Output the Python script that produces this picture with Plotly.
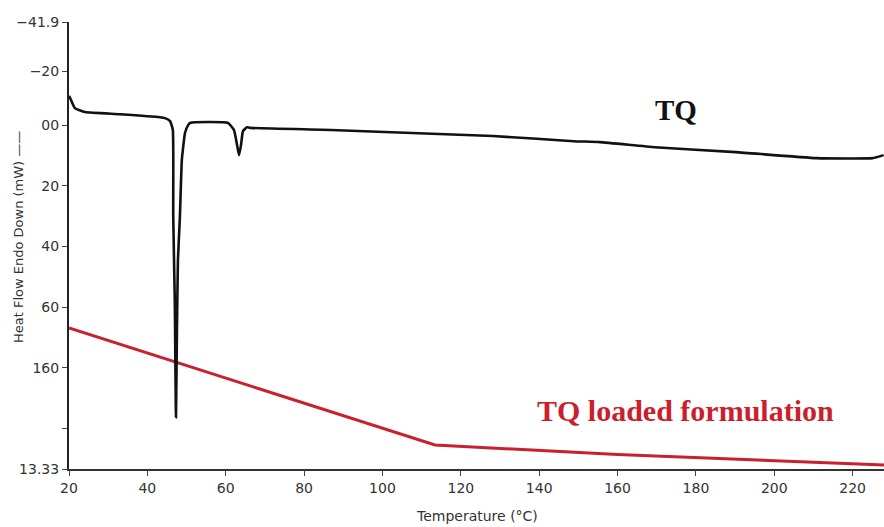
import plotly.graph_objects as go

# TQ thermogram (temperature in °C, heat flow in plot units)
tq_temp = [20.0, 20.3, 21.5, 24.1, 33.0, 43.2, 44.5, 45.8, 46.5, 46.6, 47.0, 47.3,
           47.55, 47.8, 48.3, 48.8, 49.6, 50.4, 50.9, 56.0, 60.6, 62.1, 62.9, 63.4,
           63.9, 64.4, 65.4, 66.2, 86.8, 107.5, 128.2, 148.8, 155.5, 169.5, 190.2,
           210.8, 225.1, 227.9]
tq_flow = [-9.6, -8.9, -5.6, -4.3, -3.6, -2.6, -2.3, -1.3, 1.6, 30.0, 58.0, 96.3,
           67.6, 44.5, 30.3, 11.5, 2.6, 0.0, -0.7, -1.0, -0.7, 1.6, 6.6, 9.9,
           6.6, 2.0, 0.7, 0.9, 1.6, 2.6, 3.6, 5.3, 5.6, 7.3, 8.9,
           10.9, 10.9, 9.9]

# TQ loaded formulation
form_temp = [20.0, 113.4, 160.0, 228.0]
form_flow = [66.9, 105.5, 108.6, 112.1]

# y tick positions and labels
ytick_vals = [-34.0, -17.8, 0, 20, 40, 60, 80, 100, 113.4]
ytick_text = ["\u221241.9", "\u221220", "00", "20", "40", "60", "160", "", "13.33"]
xtick_vals = [20, 40, 60, 80, 100, 120, 140, 160, 180, 200, 220]

SANS = "DejaVu Sans, Arial"
SERIF = "Liberation Serif, Times New Roman"

fig = go.Figure()
fig.add_trace(go.Scatter(x=form_temp, y=form_flow, mode="lines",
                         line=dict(color="#c8202f", width=3), showlegend=False))
fig.add_trace(go.Scatter(x=tq_temp, y=tq_flow, mode="lines",
                         line=dict(color="#111111", width=2.6, shape="spline", smoothing=0.4),
                         showlegend=False))

fig.update_layout(
    width=884, height=527,
    margin=dict(l=69, r=0, t=22, b=58),
    paper_bgcolor="white", plot_bgcolor="white",
    font=dict(family=SANS, size=14, color="#333333"),
    xaxis=dict(range=[20, 228], tickvals=xtick_vals, ticks="outside", ticklen=5,
               tickcolor="#444", showline=True, linecolor="#333", linewidth=2,
               showgrid=False, zeroline=False, tickfont=dict(family=SANS, size=14, color="#333")),
    yaxis=dict(range=[113.4, -34.0], tickvals=ytick_vals, ticktext=ytick_text,
               ticks="outside", ticklen=5, tickcolor="#444", showline=True,
               linecolor="#222", linewidth=2, showgrid=False, zeroline=False,
               tickfont=dict(family=SANS, size=14, color="#333")),
)

fig.add_annotation(text="Temperature (\u00b0C)", x=0.5, y=-0.105, xref="paper", yref="paper",
                   showarrow=False, xanchor="center", yanchor="middle",
                   font=dict(family=SANS, size=14, color="#333"))
fig.add_annotation(text="Heat Flow Endo Down (mW) \u2014\u2014", x=-0.062, y=0.52, xref="paper",
                   yref="paper", showarrow=False, textangle=-90, xanchor="center",
                   yanchor="middle", font=dict(family=SANS, size=13, color="#333"))
fig.add_annotation(text="<b>TQ</b>", x=174.8, y=-4.9, xref="x", yref="y",
                   showarrow=False, xanchor="center", yanchor="middle",
                   font=dict(family=SERIF, size=29, color="#111"))
fig.add_annotation(text="<b>TQ loaded formulation</b>", x=177.4, y=94.0, xref="x", yref="y",
                   showarrow=False, xanchor="center", yanchor="middle",
                   font=dict(family=SERIF, size=30, color="#cc1f2d"))

fig.write_html("out.html")
